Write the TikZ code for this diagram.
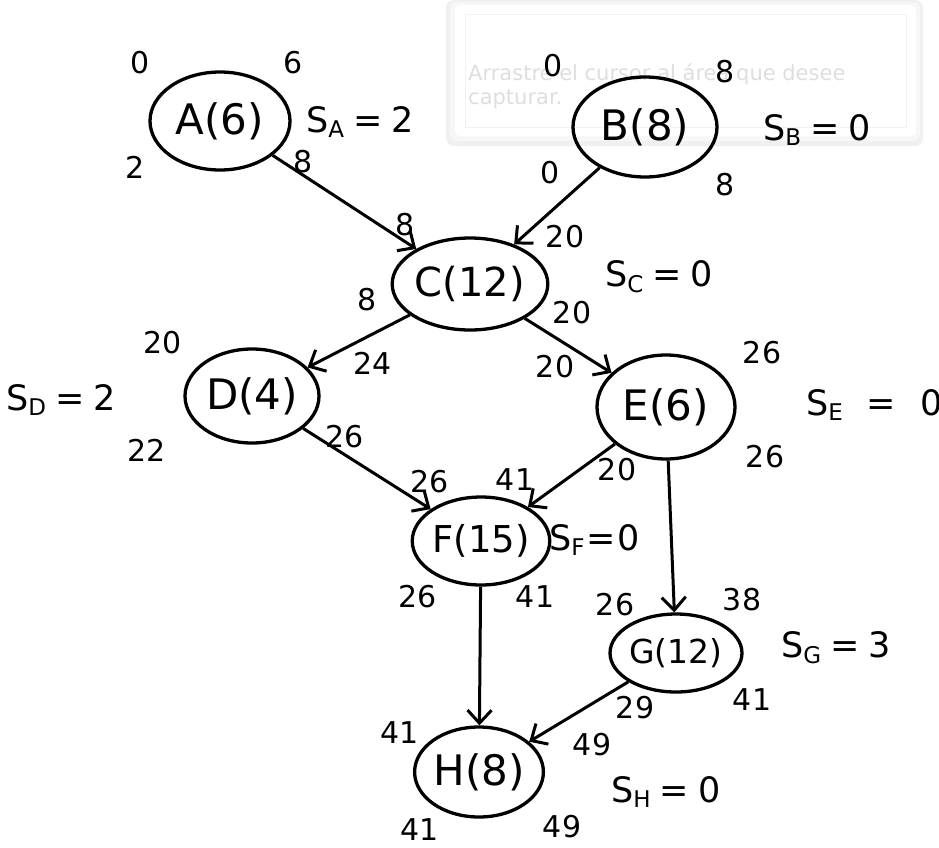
\documentclass[tikz,border=0pt]{standalone}
\usepackage{fontspec}
\setmainfont{DejaVu Sans}
\usetikzlibrary{arrows.meta,shapes.geometric}
\newcommand\slk[3][9pt]{S\raisebox{-0.3ex}{\fontsize{23}{23}\selectfont #2}\hspace{#1}=\hspace{#1}#3}
\begin{document}
\begin{tikzpicture}[x=1pt,y=-1pt,
  task/.style={ellipse, draw, line width=3.3pt, inner sep=0pt, font=\fontsize{42}{42}\selectfont},
  num/.style={font=\fontsize{30}{30}\selectfont, inner sep=0pt},
  slack/.style={font=\fontsize{35}{35}\selectfont, inner sep=0pt},
  link/.style={line width=3pt, -{Straight Barb[length=13pt,width=24pt,line width=3pt]}},
  overlay text/.style={text=black!13, font=\fontsize{21}{21}\selectfont, inner sep=0pt, anchor=base west}
]
\clip (0,0) rectangle (939,847);
\fill[white] (0,0) rectangle (939,847);
% faint screenshot-tool overlay
\fill[black!6, rounded corners=8pt] (446,0) rectangle (923,146);
\fill[black!3, rounded corners=7pt] (450,2) rectangle (920,141);
\fill[white, rounded corners=5pt] (455,5) rectangle (916,136);
\draw[black!5, line width=0.8pt] (465,14) rectangle (906,127);
\node[overlay text] (ov1) at (468,80) {Arrastre el cursor al área que desee};
\node[overlay text] (ov2) at (468,104) {capturar.};

% activities
\node[task, minimum width=140, minimum height=98] (A) at (220,121) {A(6)};
\node[task, minimum width=144, minimum height=100] (B) at (645,127) {B(8)};
\node[task, minimum width=134, minimum height=92, font=\fontsize{40}{40}\selectfont] (C) at (470,284) {C(12)};
\node[task, minimum width=134, minimum height=94] (D) at (252,396) {D(4)};
\node[task, minimum width=138, minimum height=104] (E) at (666,407) {E(6)};
\node[task, minimum width=126, minimum height=88, font=\fontsize{37}{37}\selectfont] (F) at (481,541) {F(15)};
\node[task, minimum width=122, minimum height=78, font=\fontsize{33}{33}\selectfont] (G) at (676,653) {G(12)};
\node[task, minimum width=128, minimum height=90] (H) at (479,772) {H(8)};

% connectors
\draw[link] (A) -- (C);
\draw[link] (B) -- (C);
\draw[link] (C) -- (D);
\draw[link] (C) -- (E);
\draw[link] (D) -- (F);
\draw[link] (E) -- (F);
\draw[link] (E) -- (G);
\draw[link] (F) -- (H);
\draw[link] (G) -- (H);

% times around A
\node[num] (a1) at (140,63) {0};
\node[num] (a2) at (293,63) {6};
\node[num] (a3) at (135,167) {2};
\node[num] (a4) at (303,162) {8};
\node[slack, anchor=west] (sa) at (306,122) {\slk{A}{2}};
% B
\node[num] (b1) at (553,66) {0};
\node[num] (b2) at (725,72) {8};
\node[num] (b3) at (550,173) {0};
\node[num] (b4) at (725,185) {8};
\node[slack, anchor=west] (sb) at (763,130) {\slk{B}{0}};
% C
\node[num] (c1) at (405,225) {8};
\node[num] (c2) at (565,237) {20};
\node[num] (c3) at (367,300) {8};
\node[num] (c4) at (572,313) {20};
\node[slack, anchor=west] (sc) at (605,277) {\slk{C}{0}};
% D
\node[num] (d1) at (163,343) {20};
\node[num] (d2) at (373,363) {24};
\node[num] (d3) at (147,450) {22};
\node[num] (d4) at (345,437) {26};
\node[slack, anchor=west] (sd) at (6,400) {\slk{D}{2}};
% E
\node[num] (e0) at (555,367) {20};
\node[num] (e1) at (762,353) {26};
\node[num] (e2) at (765,457) {26};
\node[slack, anchor=west] (se) at (806,405) {\slk[24pt]{E}{0}};
% F
\node[num] (f1) at (430,482) {26};
\node[num] (f2) at (515,480) {41};
\node[num] (f0) at (617,470) {20};
\node[num] (f3) at (418,597) {26};
\node[num] (f4) at (535,597) {41};
\node[slack, anchor=west] (sf) at (549,540) {\slk[2pt]{F}{0}};
% G
\node[num] (g1) at (615,605) {26};
\node[num] (g2) at (742,600) {38};
\node[num] (g3) at (635,708) {29};
\node[num] (g4) at (752,700) {41};
\node[slack, anchor=west] (sg) at (781,648) {\slk{G}{3}};
% H
\node[num] (h1) at (400,733) {41};
\node[num] (h2) at (592,745) {49};
\node[num] (h3) at (420,830) {41};
\node[num] (h4) at (562,827) {49};
\node[slack, anchor=west] (sh) at (611,792) {\slk{H}{0}};
\end{tikzpicture}
\end{document}
